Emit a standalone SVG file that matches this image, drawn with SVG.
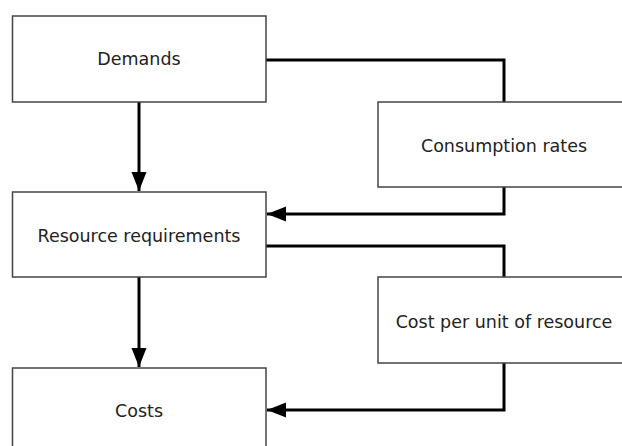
<svg xmlns="http://www.w3.org/2000/svg" width="622" height="446" viewBox="0 0 622 446">
<defs>
<style>
.box{fill:#fff;stroke:#444;stroke-width:1.5}
.lbl{font-family:"DejaVu Sans",Verdana,sans-serif;font-size:17.5px;fill:#222;text-anchor:middle}
.con{fill:none;stroke:#000;stroke-width:3}
</style>
<marker id="ah" markerUnits="userSpaceOnUse" markerWidth="20" markerHeight="16" refX="19" refY="7.5" orient="auto">
<path d="M0,0 L19,7.5 L0,15 z" fill="#000"/>
</marker>
</defs>
<rect width="622" height="446" fill="#fff"/>
<g id="connectors">
<polyline class="con" points="266,60 504,60 504,102"/>
<polyline class="con" points="504,187 504,214 267,214" marker-end="url(#ah)"/>
<polyline class="con" points="266,246 504,246 504,277"/>
<polyline class="con" points="504,363 504,410 267,410" marker-end="url(#ah)"/>
<line class="con" x1="139" y1="102" x2="139" y2="191" marker-end="url(#ah)"/>
<line class="con" x1="139" y1="277" x2="139" y2="367" marker-end="url(#ah)"/>
</g>
<g id="demands">
<rect class="box" x="12.5" y="16" width="253.5" height="86"/>
<text class="lbl" x="139" y="65">Demands</text>
</g>
<g id="consumption">
<rect class="box" x="378" y="102" width="250" height="85"/>
<text class="lbl" x="504" y="152">Consumption rates</text>
</g>
<g id="resource">
<rect class="box" x="12.5" y="192" width="253.5" height="85"/>
<text class="lbl" x="139" y="242">Resource requirements</text>
</g>
<g id="costperunit">
<rect class="box" x="378" y="277" width="250" height="86"/>
<text class="lbl" x="504" y="328">Cost per unit of resource</text>
</g>
<g id="costs">
<rect class="box" x="12.5" y="368" width="253.5" height="90"/>
<text class="lbl" x="139" y="417">Costs</text>
</g>
</svg>
